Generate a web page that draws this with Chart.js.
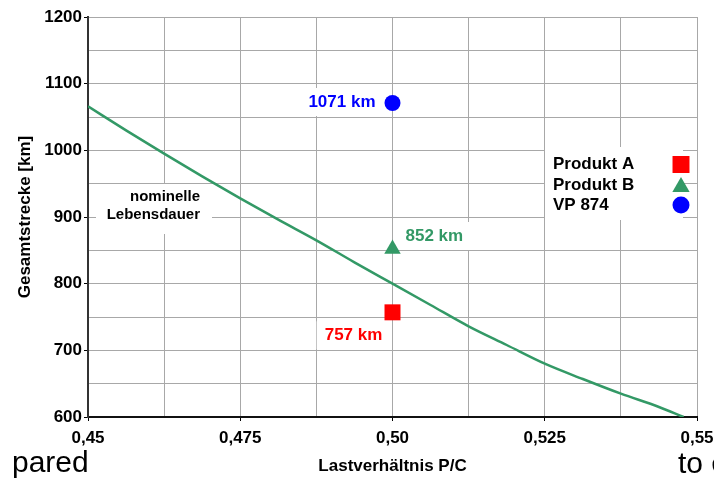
<!DOCTYPE html>
<html>
<head>
<meta charset="utf-8">
<script src="https://cdn.jsdelivr.net/npm/chart.js@4/dist/chart.umd.min.js"></script>
<style>
  html, body { margin: 0; padding: 0; background: #fff; }
  canvas { display: block; }
</style>
</head>
<body>
<canvas id="chart" width="714" height="482"></canvas>
<script>
// nominal life curve
const curveX = [0.45, 0.45625, 0.4625, 0.46875, 0.475, 0.48125, 0.4875, 0.49375, 0.5,
                0.50625, 0.5125, 0.51875, 0.525, 0.53125, 0.5375, 0.54375, 0.5478];
const curveY = [1066, 1030, 995, 961, 928, 896, 865, 832, 800,
                768, 736, 708, 680, 657, 635, 615, 600];

// measured products
const seriesNames = ['Produkt A', 'Produkt B', 'VP 874'];
const productX = [0.5, 0.5, 0.5];
const productY = [757, 852, 1071];

const curveLabel = ['nominelle', 'Lebensdauer'];
const xTitle = 'Lastverhältnis P/C';
const yTitle = 'Gesamtstrecke [km]';

const FONT = 'Liberation Sans, Arial, Helvetica, sans-serif';
const GREEN = '#339966';
const seriesColors = ['#ff0000', GREEN, '#0000ff'];
const seriesStyles = ['rect', 'triangle', 'circle'];
const seriesRadius = [11.3, 9.5, 8];

function fmtX(v) {
  const n = Math.round(v * 10000);
  if (n % 250 !== 0) return '';
  let s = v.toFixed(3);
  if (s.endsWith('0')) s = s.slice(0, -1);
  return s.replace('.', ',');
}

function drawMarker(ctx, style, x, y, r, color) {
  ctx.save();
  ctx.fillStyle = color;
  ctx.beginPath();
  if (style === 'rect') {
    const h = r * Math.SQRT1_2;
    ctx.rect(x - h, y - h, 2 * h, 2 * h);
  } else if (style === 'triangle') {
    ctx.moveTo(x, y - r);
    ctx.lineTo(x + 0.866 * r, y + 0.5 * r);
    ctx.lineTo(x - 0.866 * r, y + 0.5 * r);
    ctx.closePath();
  } else {
    ctx.arc(x, y, r, 0, Math.PI * 2);
  }
  ctx.fill();
  ctx.restore();
}

// white boxes, annotation text, value labels and legend
const annotations = {
  id: 'annotations',
  beforeDatasetsDraw(chart) {
    const ctx = chart.ctx;
    const xs = chart.scales.x, ys = chart.scales.y;
    const area = chart.chartArea;
    ctx.save();
    ctx.font = 'bold 17px ' + FONT;
    ctx.textBaseline = 'middle';

    // value labels next to each product point
    const offsets = [
      { dx: -39, dy: 23, align: 'center' },
      { dx: 13, dy: -13, align: 'left' },
      { dx: -17, dy: -1, align: 'right' }
    ];
    productY.forEach((v, i) => {
      const px = xs.getPixelForValue(productX[i]);
      const py = ys.getPixelForValue(v);
      const o = offsets[i];
      const text = v + ' km';
      const w = ctx.measureText(text).width;
      const tx = px + o.dx, ty = py + o.dy;
      let left = o.align === 'left' ? tx : o.align === 'right' ? tx - w : tx - w / 2;
      ctx.fillStyle = '#fff';
      ctx.fillRect(left - 8, ty - 14, w + 16, 28);
      ctx.fillStyle = seriesColors[i];
      ctx.textAlign = o.align;
      ctx.fillText(text, tx, ty);
    });

    // curve annotation
    ctx.font = 'bold 15px ' + FONT;
    ctx.fillStyle = '#fff';
    ctx.fillRect(area.left + 8, 184, 116, 50);
    ctx.fillStyle = '#000';
    ctx.textAlign = 'right';
    ctx.fillText(curveLabel[0], area.left + 112, 197);
    ctx.fillText(curveLabel[1], area.left + 112, 215);

    // legend
    ctx.fillStyle = '#fff';
    ctx.fillRect(545, 147, 138, 73);
    ctx.font = 'bold 17px ' + FONT;
    ctx.textAlign = 'left';
    const rows = [164.5, 185, 205];
    seriesNames.forEach((name, i) => {
      ctx.fillStyle = '#000';
      ctx.fillText(name, 553, rows[i]);
    });
    ctx.restore();
    drawMarker(ctx, 'rect', 681, rows[0], 12, seriesColors[0]);
    drawMarker(ctx, 'triangle', 681, rows[1] + 2, 10, seriesColors[1]);
    drawMarker(ctx, 'circle', 681, rows[2], 8.5, seriesColors[2]);
  },
  afterDraw(chart) {
    // cropped caption text visible at the bottom of the picture
    const ctx = chart.ctx;
    ctx.save();
    ctx.font = '30px ' + FONT;
    ctx.fillStyle = '#000';
    ctx.textBaseline = 'alphabetic';
    ctx.textAlign = 'left';
    ctx.fillText('pared', 12, 472);
    ctx.fillText('to c', 678, 473);
    ctx.restore();
  }
};

const datasets = [{
  label: 'nominelle Lebensdauer',
  data: curveX.map((x, i) => ({ x, y: curveY[i] })),
  showLine: true,
  borderColor: GREEN,
  borderWidth: 2.5,
  pointRadius: 0,
  cubicInterpolationMode: 'monotone',
  fill: false
}];
seriesNames.forEach((name, i) => {
  datasets.push({
    label: name,
    data: [{ x: productX[i], y: productY[i] }],
    pointStyle: seriesStyles[i],
    pointRadius: seriesRadius[i],
    backgroundColor: seriesColors[i],
    borderColor: seriesColors[i],
    borderWidth: 0,
    showLine: false
  });
});

new Chart(document.getElementById('chart'), {
  type: 'scatter',
  data: { datasets },
  options: {
    responsive: false,
    animation: false,
    devicePixelRatio: 1,
    layout: { padding: { top: 17, right: 17, left: 0, bottom: 0 } },
    plugins: { legend: { display: false }, tooltip: { enabled: false } },
    scales: {
      x: {
        type: 'linear',
        min: 0.45,
        max: 0.55,
        afterFit(s) {
          s.height = 65;
          // let the last tick label hang over the edge, as in the picture
          s.paddingLeft = 0;
          s.paddingRight = 0;
        },
        ticks: {
          stepSize: 0.0125,
          autoSkip: false,
          maxRotation: 0,
          padding: 7,
          color: '#000',
          font: { family: FONT, size: 17, weight: 'bold' },
          callback: v => fmtX(v)
        },
        grid: {
          color: '#a8a8a8',
          lineWidth: 1,
          tickLength: 4,
          tickColor: c => (c.tick && fmtX(c.tick.value) !== '') ? '#000' : 'rgba(0,0,0,0)'
        },
        border: { color: '#111', width: 2 },
        title: {
          display: true,
          text: xTitle,
          color: '#000',
          font: { family: FONT, size: 17, weight: 'bold' },
          padding: { top: 0, bottom: 5 }
        }
      },
      y: {
        type: 'linear',
        min: 600,
        max: 1200,
        afterFit(s) { s.width = 88; },
        ticks: {
          stepSize: 50,
          padding: 2,
          color: '#000',
          font: { family: FONT, size: 17, weight: 'bold' },
          callback: v => (v % 100 === 0 ? String(v) : '')
        },
        grid: {
          color: '#a8a8a8',
          lineWidth: 1,
          tickLength: 4,
          tickColor: c => (c.tick && c.tick.value % 100 === 0) ? '#000' : 'rgba(0,0,0,0)'
        },
        border: { color: '#333', width: 2 },
        title: {
          display: true,
          text: yTitle,
          color: '#000',
          font: { family: FONT, size: 17, weight: 'bold' },
          padding: { top: 15, bottom: 0 }
        }
      }
    }
  },
  plugins: [annotations]
});
</script>
</body>
</html>
